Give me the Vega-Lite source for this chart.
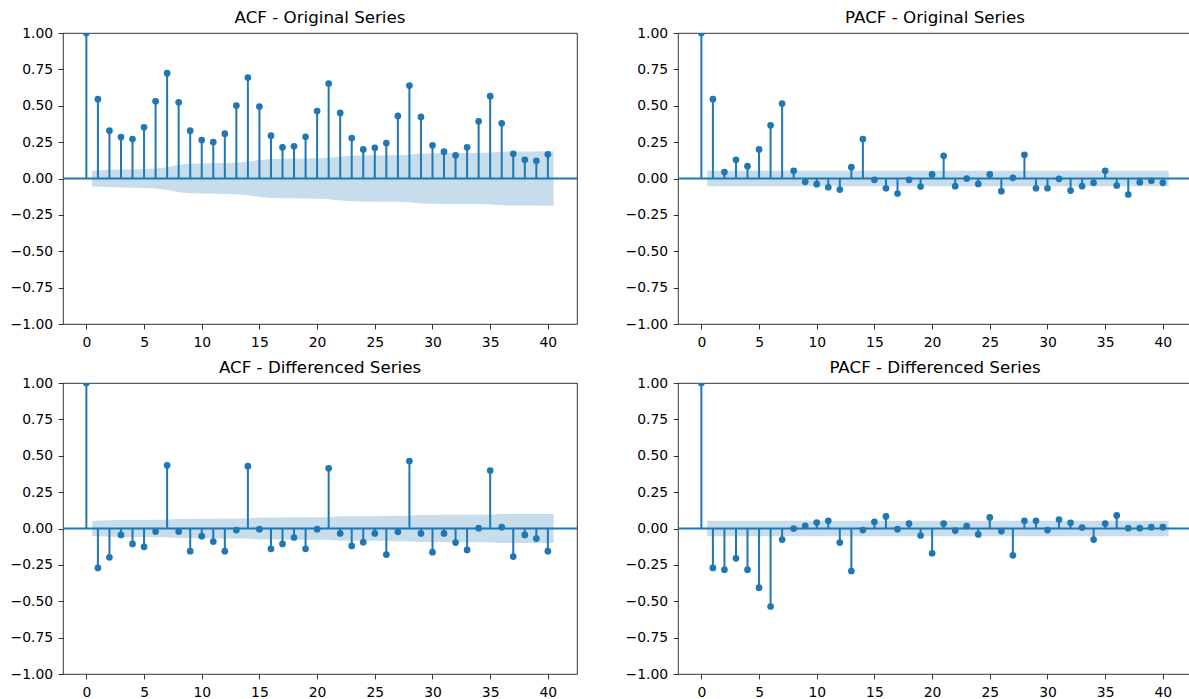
{
"$schema": "https://vega.github.io/schema/vega-lite/v6.json",
"autosize": {"type": "pad"},
"padding": {"left": 9, "top": 9, "right": 0, "bottom": 0},
"background": "white",
"columns": 2,
"spacing": {"row": 59, "column": 101},
"bounds": "flush",
"config": {
  "font": "DejaVu Sans",
  "view": {"stroke": "black", "strokeWidth": 0.8},
  "axis": {"domain": false, "grid": false, "tickColor": "black", "tickWidth": 0.8, "tickSize": 4.9, "labelFont": "DejaVu Sans", "labelFontSize": 13.9, "labelColor": "black", "title": null, "labelOverlap": false, "tickCount": 20},
  "axisX": {"labelPadding": 6.5},
  "axisY": {"labelPadding": 5.5},
  "title": {"font": "DejaVu Sans", "fontSize": 16.7, "fontWeight": "normal", "color": "black", "offset": -1, "baseline": "bottom", "frame": "group", "anchor": "middle"}
},
"datasets": {
  "stems": [
    {"p":"ao","lag":0,"r":1.0},{"p":"ao","lag":1,"r":0.545},{"p":"ao","lag":2,"r":0.329},{"p":"ao","lag":3,"r":0.285},{"p":"ao","lag":4,"r":0.271},{"p":"ao","lag":5,"r":0.352},{"p":"ao","lag":6,"r":0.531},{"p":"ao","lag":7,"r":0.724},{"p":"ao","lag":8,"r":0.524},{"p":"ao","lag":9,"r":0.329},{"p":"ao","lag":10,"r":0.264},{"p":"ao","lag":11,"r":0.251},{"p":"ao","lag":12,"r":0.308},{"p":"ao","lag":13,"r":0.501},{"p":"ao","lag":14,"r":0.694},{"p":"ao","lag":15,"r":0.494},{"p":"ao","lag":16,"r":0.294},{"p":"ao","lag":17,"r":0.214},{"p":"ao","lag":18,"r":0.221},{"p":"ao","lag":19,"r":0.287},{"p":"ao","lag":20,"r":0.464},{"p":"ao","lag":21,"r":0.653},{"p":"ao","lag":22,"r":0.451},{"p":"ao","lag":23,"r":0.278},{"p":"ao","lag":24,"r":0.2},{"p":"ao","lag":25,"r":0.211},{"p":"ao","lag":26,"r":0.244},{"p":"ao","lag":27,"r":0.43},{"p":"ao","lag":28,"r":0.639},{"p":"ao","lag":29,"r":0.423},{"p":"ao","lag":30,"r":0.228},{"p":"ao","lag":31,"r":0.184},{"p":"ao","lag":32,"r":0.159},{"p":"ao","lag":33,"r":0.214},{"p":"ao","lag":34,"r":0.393},{"p":"ao","lag":35,"r":0.566},{"p":"ao","lag":36,"r":0.379},{"p":"ao","lag":37,"r":0.17},{"p":"ao","lag":38,"r":0.129},{"p":"ao","lag":39,"r":0.122},{"p":"ao","lag":40,"r":0.166},
    {"p":"po","lag":0,"r":1.0},{"p":"po","lag":1,"r":0.545},{"p":"po","lag":2,"r":0.044},{"p":"po","lag":3,"r":0.129},{"p":"po","lag":4,"r":0.085},{"p":"po","lag":5,"r":0.2},{"p":"po","lag":6,"r":0.366},{"p":"po","lag":7,"r":0.515},{"p":"po","lag":8,"r":0.053},{"p":"po","lag":9,"r":-0.023},{"p":"po","lag":10,"r":-0.039},{"p":"po","lag":11,"r":-0.06},{"p":"po","lag":12,"r":-0.076},{"p":"po","lag":13,"r":0.078},{"p":"po","lag":14,"r":0.271},{"p":"po","lag":15,"r":-0.009},{"p":"po","lag":16,"r":-0.067},{"p":"po","lag":17,"r":-0.103},{"p":"po","lag":18,"r":-0.009},{"p":"po","lag":19,"r":-0.055},{"p":"po","lag":20,"r":0.028},{"p":"po","lag":21,"r":0.156},{"p":"po","lag":22,"r":-0.053},{"p":"po","lag":23,"r":0.0},{"p":"po","lag":24,"r":-0.037},{"p":"po","lag":25,"r":0.028},{"p":"po","lag":26,"r":-0.087},{"p":"po","lag":27,"r":0.005},{"p":"po","lag":28,"r":0.163},{"p":"po","lag":29,"r":-0.067},{"p":"po","lag":30,"r":-0.067},{"p":"po","lag":31,"r":-0.002},{"p":"po","lag":32,"r":-0.083},{"p":"po","lag":33,"r":-0.053},{"p":"po","lag":34,"r":-0.03},{"p":"po","lag":35,"r":0.053},{"p":"po","lag":36,"r":-0.048},{"p":"po","lag":37,"r":-0.11},{"p":"po","lag":38,"r":-0.025},{"p":"po","lag":39,"r":-0.016},{"p":"po","lag":40,"r":-0.03},
    {"p":"ad","lag":0,"r":1.0},{"p":"ad","lag":1,"r":-0.271},{"p":"ad","lag":2,"r":-0.198},{"p":"ad","lag":3,"r":-0.044},{"p":"ad","lag":4,"r":-0.106},{"p":"ad","lag":5,"r":-0.126},{"p":"ad","lag":6,"r":-0.021},{"p":"ad","lag":7,"r":0.434},{"p":"ad","lag":8,"r":-0.021},{"p":"ad","lag":9,"r":-0.156},{"p":"ad","lag":10,"r":-0.053},{"p":"ad","lag":11,"r":-0.09},{"p":"ad","lag":12,"r":-0.156},{"p":"ad","lag":13,"r":-0.011},{"p":"ad","lag":14,"r":0.428},{"p":"ad","lag":15,"r":-0.005},{"p":"ad","lag":16,"r":-0.14},{"p":"ad","lag":17,"r":-0.106},{"p":"ad","lag":18,"r":-0.062},{"p":"ad","lag":19,"r":-0.14},{"p":"ad","lag":20,"r":-0.005},{"p":"ad","lag":21,"r":0.414},{"p":"ad","lag":22,"r":-0.034},{"p":"ad","lag":23,"r":-0.12},{"p":"ad","lag":24,"r":-0.094},{"p":"ad","lag":25,"r":-0.034},{"p":"ad","lag":26,"r":-0.179},{"p":"ad","lag":27,"r":-0.023},{"p":"ad","lag":28,"r":0.464},{"p":"ad","lag":29,"r":-0.034},{"p":"ad","lag":30,"r":-0.163},{"p":"ad","lag":31,"r":-0.034},{"p":"ad","lag":32,"r":-0.097},{"p":"ad","lag":33,"r":-0.147},{"p":"ad","lag":34,"r":0.002},{"p":"ad","lag":35,"r":0.398},{"p":"ad","lag":36,"r":0.009},{"p":"ad","lag":37,"r":-0.193},{"p":"ad","lag":38,"r":-0.044},{"p":"ad","lag":39,"r":-0.069},{"p":"ad","lag":40,"r":-0.156},
    {"p":"pd","lag":0,"r":1.0},{"p":"pd","lag":1,"r":-0.271},{"p":"pd","lag":2,"r":-0.283},{"p":"pd","lag":3,"r":-0.205},{"p":"pd","lag":4,"r":-0.283},{"p":"pd","lag":5,"r":-0.407},{"p":"pd","lag":6,"r":-0.536},{"p":"pd","lag":7,"r":-0.076},{"p":"pd","lag":8,"r":0.0},{"p":"pd","lag":9,"r":0.018},{"p":"pd","lag":10,"r":0.041},{"p":"pd","lag":11,"r":0.053},{"p":"pd","lag":12,"r":-0.097},{"p":"pd","lag":13,"r":-0.292},{"p":"pd","lag":14,"r":-0.011},{"p":"pd","lag":15,"r":0.046},{"p":"pd","lag":16,"r":0.083},{"p":"pd","lag":17,"r":-0.005},{"p":"pd","lag":18,"r":0.034},{"p":"pd","lag":19,"r":-0.048},{"p":"pd","lag":20,"r":-0.17},{"p":"pd","lag":21,"r":0.034},{"p":"pd","lag":22,"r":-0.014},{"p":"pd","lag":23,"r":0.016},{"p":"pd","lag":24,"r":-0.041},{"p":"pd","lag":25,"r":0.076},{"p":"pd","lag":26,"r":-0.018},{"p":"pd","lag":27,"r":-0.184},{"p":"pd","lag":28,"r":0.053},{"p":"pd","lag":29,"r":0.053},{"p":"pd","lag":30,"r":-0.011},{"p":"pd","lag":31,"r":0.062},{"p":"pd","lag":32,"r":0.039},{"p":"pd","lag":33,"r":0.007},{"p":"pd","lag":34,"r":-0.076},{"p":"pd","lag":35,"r":0.034},{"p":"pd","lag":36,"r":0.09},{"p":"pd","lag":37,"r":0.002},{"p":"pd","lag":38,"r":0.002},{"p":"pd","lag":39,"r":0.009},{"p":"pd","lag":40,"r":0.009}
  ],
  "bands": [
    {"p":"ao","x":0.5,"lo":-0.053,"hi":0.053},{"p":"ao","x":2,"lo":-0.06,"hi":0.06},{"p":"ao","x":3,"lo":-0.062,"hi":0.062},{"p":"ao","x":4,"lo":-0.064,"hi":0.064},{"p":"ao","x":5,"lo":-0.066,"hi":0.066},{"p":"ao","x":6,"lo":-0.069,"hi":0.069},{"p":"ao","x":7,"lo":-0.077,"hi":0.077},{"p":"ao","x":8,"lo":-0.094,"hi":0.094},{"p":"ao","x":9,"lo":-0.101,"hi":0.101},{"p":"ao","x":10,"lo":-0.103,"hi":0.103},{"p":"ao","x":11,"lo":-0.105,"hi":0.105},{"p":"ao","x":12,"lo":-0.107,"hi":0.107},{"p":"ao","x":13,"lo":-0.109,"hi":0.109},{"p":"ao","x":14,"lo":-0.115,"hi":0.115},{"p":"ao","x":15,"lo":-0.128,"hi":0.128},{"p":"ao","x":16,"lo":-0.134,"hi":0.134},{"p":"ao","x":17,"lo":-0.135,"hi":0.135},{"p":"ao","x":18,"lo":-0.136,"hi":0.136},{"p":"ao","x":19,"lo":-0.137,"hi":0.137},{"p":"ao","x":20,"lo":-0.139,"hi":0.139},{"p":"ao","x":21,"lo":-0.143,"hi":0.143},{"p":"ao","x":22,"lo":-0.152,"hi":0.152},{"p":"ao","x":23,"lo":-0.157,"hi":0.157},{"p":"ao","x":24,"lo":-0.158,"hi":0.158},{"p":"ao","x":25,"lo":-0.159,"hi":0.159},{"p":"ao","x":26,"lo":-0.159,"hi":0.159},{"p":"ao","x":27,"lo":-0.16,"hi":0.16},{"p":"ao","x":28,"lo":-0.164,"hi":0.164},{"p":"ao","x":29,"lo":-0.171,"hi":0.171},{"p":"ao","x":30,"lo":-0.174,"hi":0.174},{"p":"ao","x":31,"lo":-0.175,"hi":0.175},{"p":"ao","x":32,"lo":-0.175,"hi":0.175},{"p":"ao","x":33,"lo":-0.176,"hi":0.176},{"p":"ao","x":34,"lo":-0.176,"hi":0.176},{"p":"ao","x":35,"lo":-0.179,"hi":0.179},{"p":"ao","x":36,"lo":-0.184,"hi":0.184},{"p":"ao","x":37,"lo":-0.186,"hi":0.186},{"p":"ao","x":38,"lo":-0.186,"hi":0.186},{"p":"ao","x":39,"lo":-0.186,"hi":0.186},{"p":"ao","x":40.5,"lo":-0.187,"hi":0.187},
    {"p":"ad","x":0.5,"lo":-0.052,"hi":0.052},{"p":"ad","x":2,"lo":-0.056,"hi":0.056},{"p":"ad","x":3,"lo":-0.058,"hi":0.058},{"p":"ad","x":4,"lo":-0.058,"hi":0.058},{"p":"ad","x":5,"lo":-0.059,"hi":0.059},{"p":"ad","x":6,"lo":-0.06,"hi":0.06},{"p":"ad","x":7,"lo":-0.06,"hi":0.06},{"p":"ad","x":8,"lo":-0.066,"hi":0.066},{"p":"ad","x":9,"lo":-0.066,"hi":0.066},{"p":"ad","x":10,"lo":-0.067,"hi":0.067},{"p":"ad","x":11,"lo":-0.067,"hi":0.067},{"p":"ad","x":12,"lo":-0.068,"hi":0.068},{"p":"ad","x":13,"lo":-0.069,"hi":0.069},{"p":"ad","x":14,"lo":-0.069,"hi":0.069},{"p":"ad","x":15,"lo":-0.075,"hi":0.075},{"p":"ad","x":16,"lo":-0.075,"hi":0.075},{"p":"ad","x":17,"lo":-0.076,"hi":0.076},{"p":"ad","x":18,"lo":-0.077,"hi":0.077},{"p":"ad","x":19,"lo":-0.077,"hi":0.077},{"p":"ad","x":20,"lo":-0.078,"hi":0.078},{"p":"ad","x":21,"lo":-0.078,"hi":0.078},{"p":"ad","x":22,"lo":-0.084,"hi":0.084},{"p":"ad","x":23,"lo":-0.084,"hi":0.084},{"p":"ad","x":24,"lo":-0.085,"hi":0.085},{"p":"ad","x":25,"lo":-0.085,"hi":0.085},{"p":"ad","x":26,"lo":-0.086,"hi":0.086},{"p":"ad","x":27,"lo":-0.087,"hi":0.087},{"p":"ad","x":28,"lo":-0.087,"hi":0.087},{"p":"ad","x":29,"lo":-0.093,"hi":0.093},{"p":"ad","x":30,"lo":-0.093,"hi":0.093},{"p":"ad","x":31,"lo":-0.094,"hi":0.094},{"p":"ad","x":32,"lo":-0.094,"hi":0.094},{"p":"ad","x":33,"lo":-0.095,"hi":0.095},{"p":"ad","x":34,"lo":-0.095,"hi":0.095},{"p":"ad","x":35,"lo":-0.095,"hi":0.095},{"p":"ad","x":36,"lo":-0.099,"hi":0.099},{"p":"ad","x":37,"lo":-0.099,"hi":0.099},{"p":"ad","x":38,"lo":-0.099,"hi":0.099},{"p":"ad","x":39,"lo":-0.099,"hi":0.099},{"p":"ad","x":40.5,"lo":-0.099,"hi":0.099},
    {"p":"po","x":0.5,"lo":-0.053,"hi":0.053},{"p":"po","x":40.5,"lo":-0.053,"hi":0.053},
    {"p":"pd","x":0.5,"lo":-0.053,"hi":0.053},{"p":"pd","x":40.5,"lo":-0.053,"hi":0.053}
  ],
  "zero": [{"z": 0}]
},
"concat": [
  {"title": "ACF - Original Series", "width": 514, "height": 291, "layer": [
    {"data": {"name": "bands"}, "transform": [{"filter": "datum.p == 'ao'"}], "mark": {"type": "area", "fill": "#1f77b4", "fillOpacity": 0.25},
     "encoding": {"x": {"field": "x", "type": "quantitative", "scale": {"domain": [-2.025, 42.525], "nice": false, "zero": false}, "axis": {"values": [0,5,10,15,20,25,30,35,40], "format": "d", "tickCount": 20}},
                  "y": {"field": "lo", "type": "quantitative", "scale": {"domain": [-1, 1], "nice": false}, "axis": {"values": [-1,-0.75,-0.5,-0.25,0,0.25,0.5,0.75,1], "format": ".2f", "tickCount": 20}},
                  "y2": {"field": "hi"}}},
    {"data": {"name": "zero"}, "mark": {"type": "rule", "color": "#1f77b4", "strokeWidth": 2}, "encoding": {"y": {"field": "z", "type": "quantitative"}}},
    {"data": {"name": "stems"}, "transform": [{"filter": "datum.p == 'ao'"}], "mark": {"type": "rule", "color": "#1f77b4", "strokeWidth": 2},
     "encoding": {"x": {"field": "lag", "type": "quantitative"}, "y": {"field": "r", "type": "quantitative"}, "y2": {"datum": 0}}},
    {"data": {"name": "stems"}, "transform": [{"filter": "datum.p == 'ao'"}], "mark": {"type": "circle", "color": "#1f77b4", "opacity": 1, "size": 45, "clip": true},
     "encoding": {"x": {"field": "lag", "type": "quantitative"}, "y": {"field": "r", "type": "quantitative"}}}
  ]},
  {"title": "PACF - Original Series", "width": 514, "height": 291, "layer": [
    {"data": {"name": "bands"}, "transform": [{"filter": "datum.p == 'po'"}], "mark": {"type": "area", "fill": "#1f77b4", "fillOpacity": 0.25},
     "encoding": {"x": {"field": "x", "type": "quantitative", "scale": {"domain": [-2.025, 42.525], "nice": false, "zero": false}, "axis": {"values": [0,5,10,15,20,25,30,35,40], "format": "d", "tickCount": 20}},
                  "y": {"field": "lo", "type": "quantitative", "scale": {"domain": [-1, 1], "nice": false}, "axis": {"values": [-1,-0.75,-0.5,-0.25,0,0.25,0.5,0.75,1], "format": ".2f", "tickCount": 20}},
                  "y2": {"field": "hi"}}},
    {"data": {"name": "zero"}, "mark": {"type": "rule", "color": "#1f77b4", "strokeWidth": 2}, "encoding": {"y": {"field": "z", "type": "quantitative"}}},
    {"data": {"name": "stems"}, "transform": [{"filter": "datum.p == 'po'"}], "mark": {"type": "rule", "color": "#1f77b4", "strokeWidth": 2},
     "encoding": {"x": {"field": "lag", "type": "quantitative"}, "y": {"field": "r", "type": "quantitative"}, "y2": {"datum": 0}}},
    {"data": {"name": "stems"}, "transform": [{"filter": "datum.p == 'po'"}], "mark": {"type": "circle", "color": "#1f77b4", "opacity": 1, "size": 45, "clip": true},
     "encoding": {"x": {"field": "lag", "type": "quantitative"}, "y": {"field": "r", "type": "quantitative"}}}
  ]},
  {"title": "ACF - Differenced Series", "width": 514, "height": 291, "layer": [
    {"data": {"name": "bands"}, "transform": [{"filter": "datum.p == 'ad'"}], "mark": {"type": "area", "fill": "#1f77b4", "fillOpacity": 0.25},
     "encoding": {"x": {"field": "x", "type": "quantitative", "scale": {"domain": [-2.025, 42.525], "nice": false, "zero": false}, "axis": {"values": [0,5,10,15,20,25,30,35,40], "format": "d", "tickCount": 20}},
                  "y": {"field": "lo", "type": "quantitative", "scale": {"domain": [-1, 1], "nice": false}, "axis": {"values": [-1,-0.75,-0.5,-0.25,0,0.25,0.5,0.75,1], "format": ".2f", "tickCount": 20}},
                  "y2": {"field": "hi"}}},
    {"data": {"name": "zero"}, "mark": {"type": "rule", "color": "#1f77b4", "strokeWidth": 2}, "encoding": {"y": {"field": "z", "type": "quantitative"}}},
    {"data": {"name": "stems"}, "transform": [{"filter": "datum.p == 'ad'"}], "mark": {"type": "rule", "color": "#1f77b4", "strokeWidth": 2},
     "encoding": {"x": {"field": "lag", "type": "quantitative"}, "y": {"field": "r", "type": "quantitative"}, "y2": {"datum": 0}}},
    {"data": {"name": "stems"}, "transform": [{"filter": "datum.p == 'ad'"}], "mark": {"type": "circle", "color": "#1f77b4", "opacity": 1, "size": 45, "clip": true},
     "encoding": {"x": {"field": "lag", "type": "quantitative"}, "y": {"field": "r", "type": "quantitative"}}}
  ]},
  {"title": "PACF - Differenced Series", "width": 514, "height": 291, "layer": [
    {"data": {"name": "bands"}, "transform": [{"filter": "datum.p == 'pd'"}], "mark": {"type": "area", "fill": "#1f77b4", "fillOpacity": 0.25},
     "encoding": {"x": {"field": "x", "type": "quantitative", "scale": {"domain": [-2.025, 42.525], "nice": false, "zero": false}, "axis": {"values": [0,5,10,15,20,25,30,35,40], "format": "d", "tickCount": 20}},
                  "y": {"field": "lo", "type": "quantitative", "scale": {"domain": [-1, 1], "nice": false}, "axis": {"values": [-1,-0.75,-0.5,-0.25,0,0.25,0.5,0.75,1], "format": ".2f", "tickCount": 20}},
                  "y2": {"field": "hi"}}},
    {"data": {"name": "zero"}, "mark": {"type": "rule", "color": "#1f77b4", "strokeWidth": 2}, "encoding": {"y": {"field": "z", "type": "quantitative"}}},
    {"data": {"name": "stems"}, "transform": [{"filter": "datum.p == 'pd'"}], "mark": {"type": "rule", "color": "#1f77b4", "strokeWidth": 2},
     "encoding": {"x": {"field": "lag", "type": "quantitative"}, "y": {"field": "r", "type": "quantitative"}, "y2": {"datum": 0}}},
    {"data": {"name": "stems"}, "transform": [{"filter": "datum.p == 'pd'"}], "mark": {"type": "circle", "color": "#1f77b4", "opacity": 1, "size": 45, "clip": true},
     "encoding": {"x": {"field": "lag", "type": "quantitative"}, "y": {"field": "r", "type": "quantitative"}}}
  ]}
]
}
